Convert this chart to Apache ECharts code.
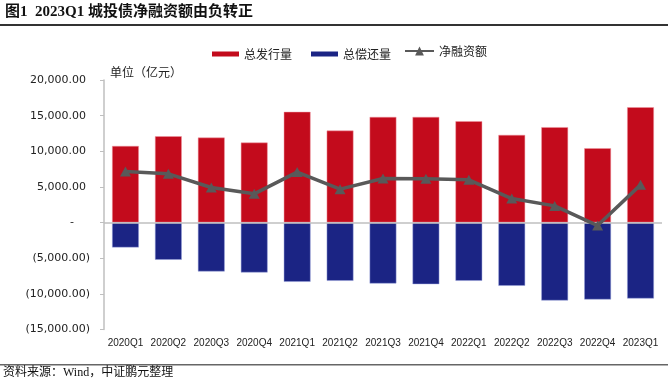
<!DOCTYPE html>
<html><head><meta charset="utf-8">
<script src="https://cdn.jsdelivr.net/npm/echarts@6/dist/echarts.min.js"></script>
<style>html,body{margin:0;padding:0;background:#fff}#c{width:668px;height:384px}</style>
</head><body><div id="c"></div>
<script>
const categories = ['2020Q1','2020Q2','2020Q3','2020Q4','2021Q1','2021Q2','2021Q3','2021Q4','2022Q1','2022Q2','2022Q3','2022Q4','2023Q1'];
const issuance = [10770, 12130, 11940, 11240, 15550, 12920, 14840, 14840, 14240, 12320, 13400, 10450, 16200];
const repayment = [-3510, -5240, -6880, -7020, -8330, -8190, -8570, -8660, -8190, -8890, -10950, -10810, -10670];
const netFinancing = [7160, 6840, 4920, 4030, 7080, 4690, 6180, 6130, 6000, 3370, 2340, -420, 5290];
const yTicks = { min: -15000, max: 20000, interval: 5000 };

function fmt(v) {
  const s = Math.abs(v).toLocaleString('en-US', {minimumFractionDigits: 2, maximumFractionDigits: 2});
  if (v === 0) return '{z|-}';
  if (v < 0) return '{n|(' + s + ')}';
  return '{p|' + s + '}';
}

const chart = echarts.init(document.getElementById('c'), null, {renderer: 'canvas'});
const lblFont = 'DejaVu Sans';
chart.setOption({
  animation: false,
  backgroundColor: '#fff',
  graphic: [
    {type: 'text', left: 5, top: 5, style: {text: '图1  2023Q1 城投债净融资额由负转正', font: 'bold 15px "Liberation Serif", "Noto Sans CJK SC"', fill: '#111'}},
    {type: 'rect', left: 0, top: 24, shape: {width: 668, height: 2}, style: {fill: '#333'}},
    {type: 'text', left: 110, top: 66, style: {text: '单位（亿元）', font: '12px "Noto Sans CJK SC"', fill: '#222'}},
    {type: 'rect', left: 0, top: 364, shape: {width: 668, height: 1.5}, style: {fill: '#666'}},
    {type: 'text', left: 3, top: 367, style: {text: '资料来源：Wind，中证鹏元整理', font: '12px "Liberation Serif", "Noto Sans CJK SC"', fill: '#111'}}
  ],
  legend: [
    {data: ['总发行量', '总偿还量'], left: 207, top: 43, itemWidth: 27, itemHeight: 5, itemGap: 19, icon: 'rect',
     itemStyle: {borderWidth: 0},
     textStyle: {fontFamily: 'Noto Sans CJK SC', fontSize: 12, color: '#222'}},
    {data: ['净融资额'], left: 399, top: 40, itemWidth: 29, itemHeight: 11,
     textStyle: {fontFamily: 'Noto Sans CJK SC', fontSize: 12, color: '#222'}}
  ],
  grid: {left: 104, right: 6, top: 80, bottom: 54.5, containLabel: false},
  xAxis: {
    type: 'category', data: categories,
    axisLine: {show: false}, axisTick: {show: false},
    axisLabel: {fontFamily: 'Liberation Sans', fontSize: 10, color: '#222', margin: 9, interval: 0}
  },
  yAxis: {
    type: 'value', min: yTicks.min, max: yTicks.max, interval: yTicks.interval,
    splitLine: {show: false},
    axisLine: {show: true, lineStyle: {color: '#BFBFBF', width: 1.5}},
    axisTick: {show: true, length: 4, lineStyle: {color: '#BFBFBF'}},
    axisLabel: {
      margin: 14, formatter: fmt,
      rich: {
        p: {fontFamily: lblFont, fontSize: 11, color: '#222', padding: [0, 4, 0, 0]},
        n: {fontFamily: lblFont, fontSize: 11, color: '#222'},
        z: {fontFamily: lblFont, fontSize: 11, color: '#222', padding: [0, 16, 0, 0]}
      }
    }
  },
  series: [
    {name: '总发行量', type: 'bar', stack: 'a', data: issuance, barWidth: '63%',
     itemStyle: {color: '#C30B1C', borderColor: 'rgba(240,150,160,0.6)', borderWidth: 0.8},
     markLine: {silent: true, symbol: 'none', label: {show: false}, lineStyle: {color: '#BFBFBF', width: 1.5, type: 'solid'}, data: [{yAxis: 0}]}},
    {name: '总偿还量', type: 'bar', stack: 'a', data: repayment, barWidth: '63%',
     itemStyle: {color: '#1B2484', borderColor: 'rgba(150,160,220,0.6)', borderWidth: 0.8}},
    {name: '净融资额', type: 'line', data: netFinancing, symbol: 'triangle', symbolSize: [11, 10],
     itemStyle: {color: '#595959'}, lineStyle: {color: '#595959', width: 3.5}, z: 5}
  ]
});
</script></body></html>
